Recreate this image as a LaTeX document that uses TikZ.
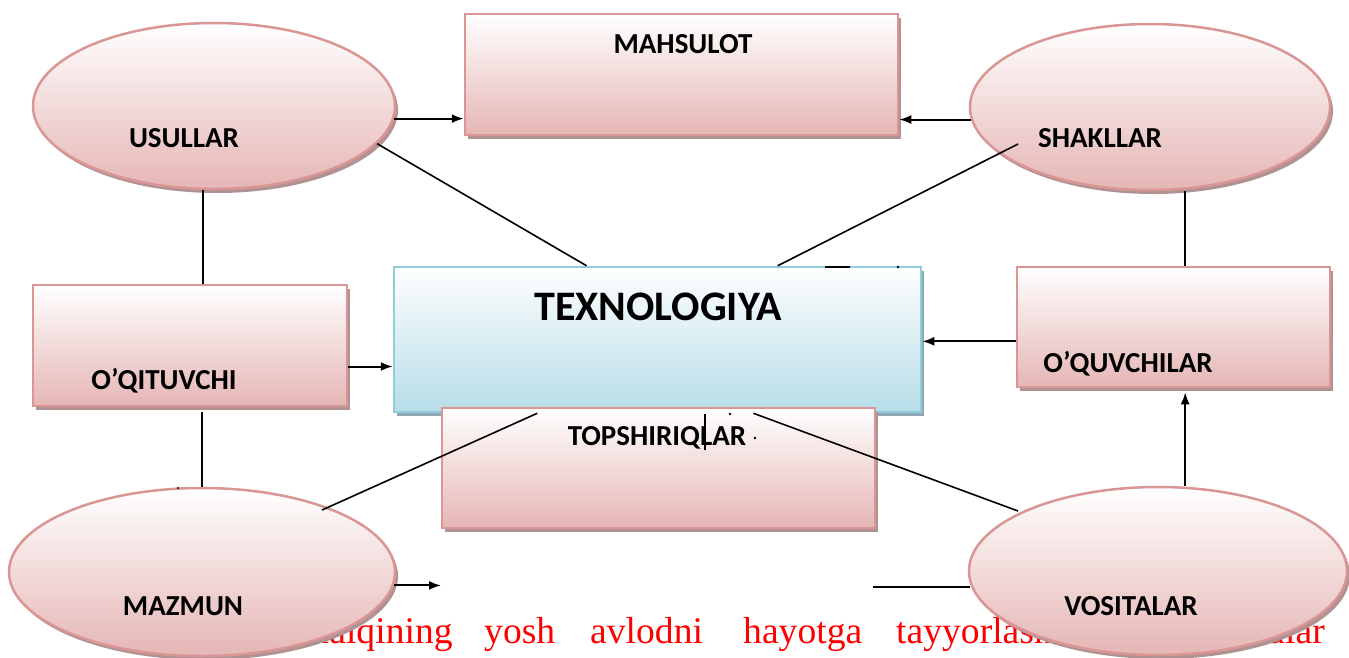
\documentclass[tikz,border=0pt]{standalone}
\usepackage{fontspec}
\setmainfont{Liberation Serif}
\newfontfamily\labelfont{Carlito}
\usetikzlibrary{shapes.geometric,shadows,arrows.meta,calc}
\definecolor{pinkedge}{HTML}{D99694}
\definecolor{pinkmid}{HTML}{F3E0E0}
\definecolor{pinkbot}{HTML}{E5B6B5}
\definecolor{pinkshadow}{HTML}{B09292}
\definecolor{blueedge}{HTML}{92CDDC}
\definecolor{bluemid}{HTML}{DDEFF4}
\definecolor{bluebot}{HTML}{B6DDE8}
\definecolor{blueshadow}{HTML}{8EA9B2}
\definecolor{redtext}{HTML}{FF0000}
\begin{document}
\begin{tikzpicture}[x=1pt,y=-1pt,
  pinkshape/.style={draw=pinkedge,line width=2.5pt,top color=white,middle color=pinkmid,bottom color=pinkbot,
    general shadow={fill=pinkshadow,shadow xshift=3pt,shadow yshift=-4pt},inner sep=0pt},
  ellshape/.style={pinkshape,ellipse},
  boxshape/.style={pinkshape,rectangle},
  blueshape/.style={draw=blueedge,line width=2.5pt,top color=white,middle color=bluemid,bottom color=bluebot,
    general shadow={fill=blueshadow,shadow xshift=3pt,shadow yshift=-4pt},rectangle,inner sep=0pt},
  lbl/.style={font=\labelfont\bfseries\fontsize{29}{32}\selectfont,text=black,inner sep=0pt},
  biglbl/.style={font=\labelfont\bfseries\fontsize{42}{46}\selectfont,text=black,inner sep=0pt},
  conn/.style={line width=2pt,black},
  arr/.style={conn,-{Latex[length=12pt,width=9pt]}},
  diag/.style={line width=1.6pt,black},
  redword/.style={font=\fontsize{37.6}{40}\selectfont,text=redtext,inner sep=0pt,anchor=base west}
]
\useasboundingbox (0,0) rectangle (1349,657);
\fill[white] (0,0) rectangle (1349,657);

% red text (partly hidden)
\node[redword] (w1) at (302,643) {Xalqining};
\node[redword] (w2) at (484,643) {yosh};
\node[redword] (w3) at (590,643) {avlodni};
\node[redword] (w4) at (743,643) {hayotga};
\node[redword] (w5) at (896,643) {tayyorlash};
\node[redword,anchor=base east] (w6) at (1325,643) {vazifalar};

% shapes
\node[ellshape,minimum width=362,minimum height=166] (usullar) at (214,106) {};
\node[ellshape,minimum width=360,minimum height=166] (shakllar) at (1150,107) {};
\node[boxshape,minimum width=433,minimum height=121] (mahsulot) at (681.5,74.5) {};
\node[blueshape,minimum width=527,minimum height=145] (tex) at (657.5,339.5) {};
\node[boxshape,minimum width=314,minimum height=121] (oqit) at (190,345.5) {};
\node[boxshape,minimum width=313,minimum height=120] (oquv) at (1173.5,327) {};
\node[boxshape,minimum width=433,minimum height=120] (topsh) at (658.5,468) {};
\node[ellshape,minimum width=386,minimum height=168] (mazmun) at (202,572) {};
\node[ellshape,minimum width=378,minimum height=168] (vositalar) at (1158,571) {};

% labels
\node[lbl] (lmahs) at (683,44) {MAHSULOT};
\node[lbl] (lusul) at (184,138) {USULLAR};
\node[lbl] (lshak) at (1100,138) {SHAKLLAR};
\node[biglbl] (ltex) at (658,307) {TEXNOLOGIYA};
\node[lbl] (loqit) at (164,381) {O’QITUVCHI};
\node[lbl] (loquv) at (1128,364) {O’QUVCHILAR};
\node[lbl] (ltopsh) at (657,438) {TOPSHIRIQLAR};
\node[lbl] (lmazm) at (183,606) {MAZMUN};
\node[lbl] (lvosi) at (1131,606) {VOSITALAR};

% arrows to MAHSULOT
\draw[arr] (usullar.-4.8) -- (usullar.-4.8 -| mahsulot.west);
\draw[arr] (shakllar.184.5) -- (shakllar.184.5 -| mahsulot.east);

% diagonals to TEXNOLOGIYA
\draw[diag] (usullar.-13.7) -- ($(tex.north west)!0.366!(tex.north east)$);
\draw[diag] ($(shakllar.center)+(-132,37)$) -- ($(tex.north west)!0.727!(tex.north east)$);
\draw[diag] ($(mazmun.center)+(120,-62)$) -- ($(tex.south west)!0.273!(tex.south east)$);
\draw[diag] ($(vositalar.center)+(-140,-60)$) -- ($(tex.south west)!0.681!(tex.south east)$);

% vertical links
\coordinate (uo) at ($(oqit.north west)!0.541!(oqit.north east)$);
\draw[conn] (usullar.south -| uo) -- (uo);
\coordinate (sq) at ($(oquv.north west)!0.537!(oquv.north east)$);
\draw[conn] (shakllar.south -| sq) -- (sq);
\coordinate (om) at ($(oqit.south west)!0.538!(oqit.south east)$);
\draw[conn] ([yshift=-5pt]om) -- (om |- mazmun.north);
\coordinate (vq) at ($(oquv.south west)!0.537!(oquv.south east)$);
\draw[arr] (vq |- vositalar.north) -- ([yshift=-4pt]vq);

% arrows into TEXNOLOGIYA
\coordinate (ot) at ($(oqit.north east)!0.67!(oqit.south east)$);
\draw[arr] (ot) -- (ot -| tex.west);
\coordinate (qt) at ($(oquv.north west)!0.617!(oquv.south west)$);
\draw[arr] (qt) -- (qt -| tex.east);

% bottom links
\coordinate (mz) at (441,587);
\draw[arr] (mazmun.-4.5) -- (mazmun.-4.5 -| mz);
\coordinate (vz) at (873,587);
\draw[conn] (vz) -- (vz -| vositalar.184.8);

% small marks
\coordinate (m1) at (825,267);
\coordinate (m2) at (850,267);
\draw[conn] (m1) -- (m2);
\fill (898,267) circle (1.3);
\coordinate (t1) at (705,414);
\coordinate (t2) at (705,450);
\draw[line width=1.5pt] (t1) -- (t2);
\fill (730,414) circle (1.3);
\fill (755,438) circle (1.3);
\fill (178,488) circle (1.2);
\end{tikzpicture}
\end{document}
